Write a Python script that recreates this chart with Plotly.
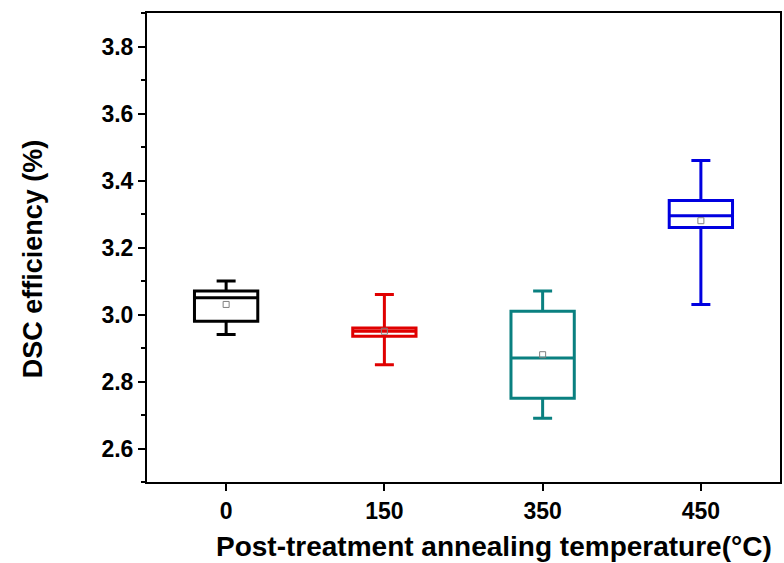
import plotly.graph_objects as go

categories = ["0", "150", "350", "450"]
colors = ["#000000", "#e00000", "#0a8080", "#0000e0"]
lower_whisker = [2.94, 2.85, 2.69, 3.03]
q1 = [2.98, 2.935, 2.75, 3.26]
median = [3.05, 2.95, 2.87, 3.295]
q3 = [3.07, 2.96, 3.01, 3.34]
upper_whisker = [3.10, 3.06, 3.07, 3.46]
means = [3.03, 2.95, 2.88, 3.28]
x_title = "Post-treatment annealing temperature(°C)"
y_title = "DSC efficiency (%)"

fig = go.Figure()
for i, cat in enumerate(categories):
    fig.add_trace(go.Box(
        x=[cat], q1=[q1[i]], median=[median[i]], q3=[q3[i]],
        lowerfence=[lower_whisker[i]], upperfence=[upper_whisker[i]],
        line=dict(color=colors[i], width=3),
        fillcolor="rgba(255,255,255,0)",
        width=0.4, whiskerwidth=0.3, boxpoints=False,
        showlegend=False, hoverinfo="skip",
    ))

fig.add_trace(go.Scatter(
    x=categories, y=means, mode="markers",
    marker=dict(symbol="square-open", size=6, color="#808080", line=dict(width=1)),
    showlegend=False, hoverinfo="skip",
))

font_family = "Liberation Sans, Arial, sans-serif"
fig.update_layout(
    width=784, height=563,
    margin=dict(l=147, r=2, t=13, b=81),
    plot_bgcolor="white", paper_bgcolor="white",
    boxmode="overlay",
    font=dict(family=font_family, color="black"),
    annotations=[
        dict(text="<b>" + x_title + "</b>", xref="paper", yref="paper",
             x=0.548, y=-0.1365, xanchor="center", yanchor="middle",
             showarrow=False, font=dict(size=28, family=font_family, color="black")),
        dict(text="<b>" + y_title + "</b>", xref="paper", yref="paper",
             x=-0.1795, y=0.4755, xanchor="center", yanchor="middle", textangle=-90,
             showarrow=False, font=dict(size=27, family=font_family, color="black")),
    ],
)
fig.update_xaxes(
    type="category", categoryorder="array", categoryarray=categories,
    range=[-0.5, 3.5],
    showline=True, linecolor="black", linewidth=2, mirror=True,
    ticks="outside", ticklen=7, tickwidth=2, tickcolor="black",
    tickfont=dict(size=23, family=font_family, weight="bold"),
    showgrid=False, zeroline=False,
)
fig.update_yaxes(
    range=[2.5, 3.9], tick0=2.6, dtick=0.2, tickformat=".1f",
    showline=True, linecolor="black", linewidth=2, mirror=True,
    ticks="outside", ticklen=7, tickwidth=2, tickcolor="black",
    minor=dict(dtick=0.1, tick0=2.5, ticks="outside", ticklen=4, tickwidth=2, tickcolor="black", showgrid=False),
    tickfont=dict(size=23, family=font_family, weight="bold"),
    showgrid=False, zeroline=False,
)

fig.write_html("out.html")
